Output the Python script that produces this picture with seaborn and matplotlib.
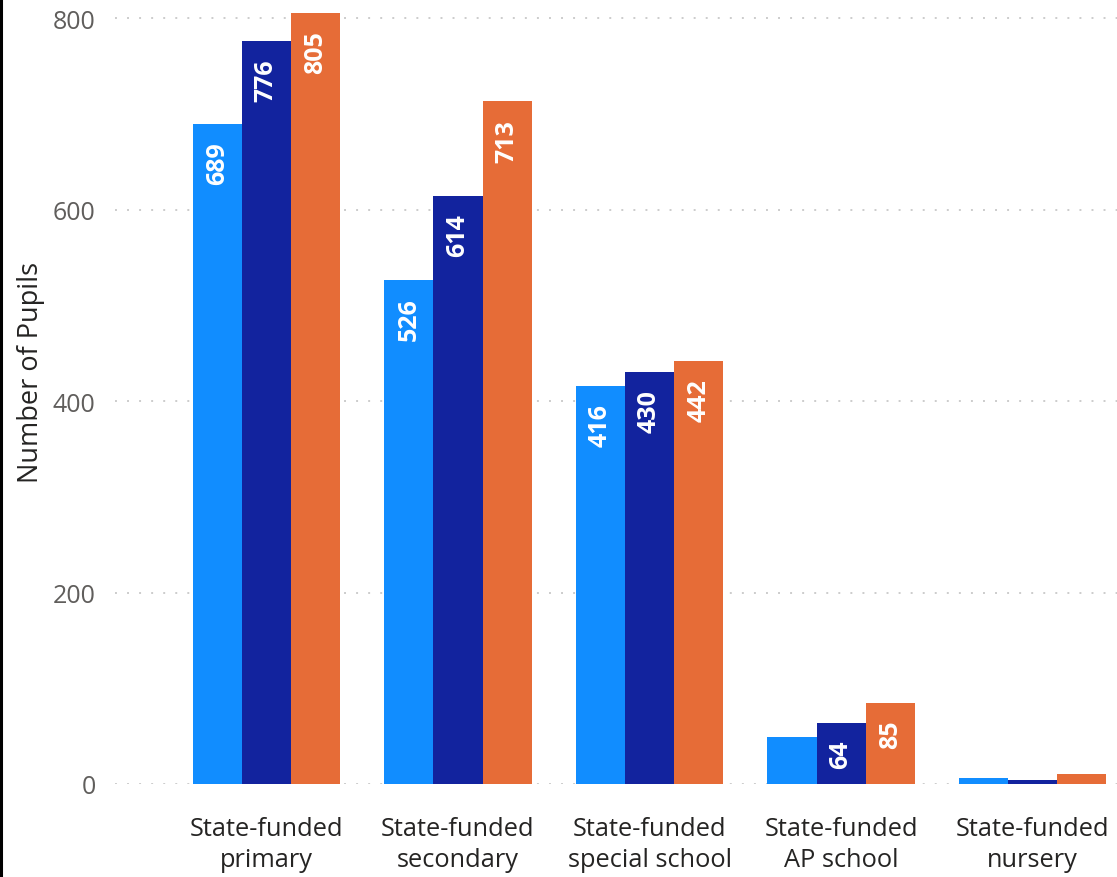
import numpy as np
import pandas as pd
import matplotlib
matplotlib.use("Agg")
import matplotlib.pyplot as plt
import matplotlib.lines as mlines
import seaborn as sns

# data
categories = ["State-funded\nprimary", "State-funded\nsecondary", "State-funded\nspecial school",
              "State-funded\nAP school", "State-funded\nnursery"]
series_names = ["Year 1", "Year 2", "Year 3"]
values_year1 = [689, 526, 416, 49, 6]
values_year2 = [776, 614, 430, 64, 4]
values_year3 = [805, 713, 442, 85, 10]
y_ticks = [0, 200, 400, 600, 800]

colors = ["#118DFF", "#12239E", "#E66C37"]

df = pd.DataFrame({
    "Category": categories * 3,
    "Series": np.repeat(series_names, len(categories)),
    "Pupils": values_year1 + values_year2 + values_year3,
})

sns.set_style("white")
plt.rcParams["font.family"] = ["Open Sans", "DejaVu Sans"]

fig = plt.figure(figsize=(11.17, 8.78), dpi=100)
ax = fig.add_axes([115 / 1117, 93 / 878, 1 - 115 / 1117, 785 / 878])

sns.barplot(data=df, x="Category", y="Pupils", hue="Series", palette=colors,
            width=0.77, gap=0, saturation=1, legend=False, linewidth=0,
            edgecolor="none", ax=ax)

# value labels, rotated, inside the top of each bar (skipped when the bar is too short)
for container in ax.containers:
    for bar in container:
        h = bar.get_height()
        if h < 55:
            continue
        ax.text(bar.get_x() + bar.get_width() / 2, h - 18, f"{h:.0f}", rotation=90,
                ha="center", va="top", color="white", fontsize=18, fontweight="bold")

ax.set_ylim(0, 820)
ax.set_xlim(-0.79, 4.44)
ax.set_yticks(y_ticks)
ax.set_yticklabels([str(t) for t in y_ticks])
ax.tick_params(axis="y", length=0, pad=14, labelsize=18, labelcolor="#605E5C")
ax.tick_params(axis="x", length=0, pad=23, labelsize=18.3, labelcolor="#252423")
for lbl in ax.get_xticklabels():
    lbl.set_linespacing(1.3)
ax.set_xlabel("")
ax.set_ylabel("Number of Pupils", fontsize=19.5, color="#252423")
ax.yaxis.set_label_coords(-0.07, 0.526)

for t in y_ticks:
    ax.axhline(t, color="#CCCCCC", linewidth=1.4, linestyle=(0, (1, 5.2)), zorder=0)

sns.despine(ax=ax, left=True, bottom=True, top=True, right=True)

# thin black border at the left edge
fig.add_artist(mlines.Line2D([0.0013, 0.0013], [0, 1], color="black", linewidth=2.2,
                             transform=fig.transFigure))

plt.savefig("out.png", dpi=100)
